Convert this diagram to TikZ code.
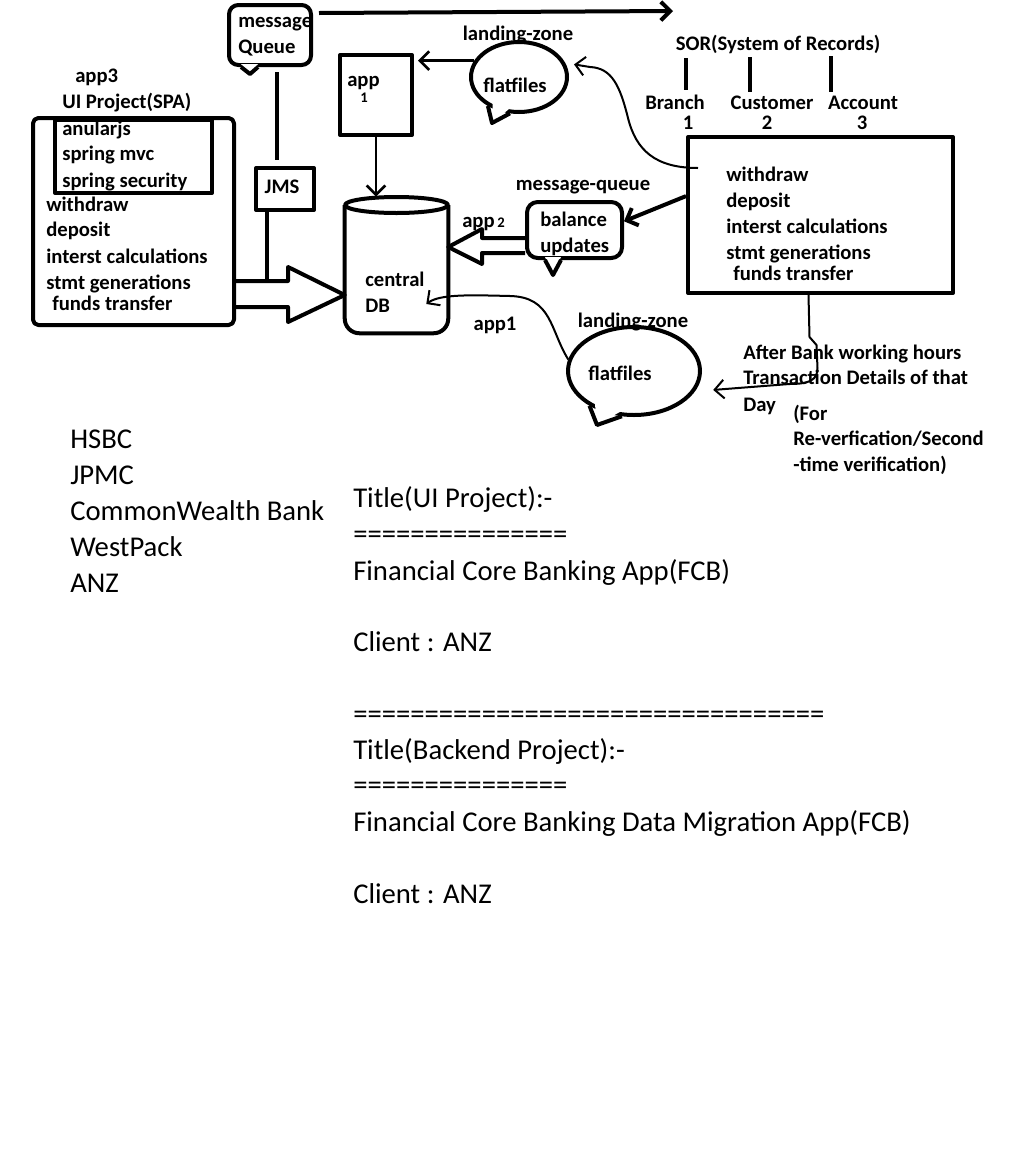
\documentclass[tikz,border=0pt]{standalone}
\usepackage{fontspec}
\setmainfont{Carlito}
\usetikzlibrary{arrows.meta,shapes.geometric,calc,fit}

\begin{document}
\begin{tikzpicture}[x=0.75pt, y=-0.75pt, line join=round]
	\tikzstyle{box} = [draw, line width=3pt, inner sep=0pt];
	\tikzstyle{bubble} = [draw, ellipse, line width=3pt, inner sep=0pt];
	\tikzstyle{lbl} = [inner sep=0pt, anchor=west, text height=11.5pt, text depth=0pt, font={\bfseries\fontsize{15.5}{18}\selectfont}];
	\tikzstyle{sub} = [inner sep=0pt, font={\bfseries\fontsize{11}{13}\selectfont}];
	\tikzstyle{note} = [inner sep=0pt, anchor=west, text height=15.5pt, text depth=0pt, font={\fontsize{21.5}{26}\selectfont}];
	\tikzstyle{flow} = [-{Straight Barb[length=7pt,width=14pt]}, line width=2pt];
	\tikzstyle{wire} = [-{Straight Barb[length=7pt,width=14pt]}, line width=1.5pt];
	\tikzstyle{fat} = [line width=3pt];

	\useasboundingbox (0,0) rectangle (1018,1154);

	% boxes
	\node[box, rounded corners=4pt, fit={(33,118) (234,325)}] (uibox) {};
	\node[box, fit={(55,120) (212,193)}] (uiinner) {};
	\node[box, rounded corners=7pt, fit={(229,5) (311,65)}] (mq) {};
	\node[box, fit={(256,168) (314,210)}] (jms) {};
	\node[box, fit={(340,55) (412,135)}] (appone) {};
	\node[inner sep=0pt, fit={(345,197) (448,333)}] (db) {};
	\node[box, fit={(688,137) (953,293)}] (sor) {};
	\node[box, rounded corners=8pt, fit={(527,202) (622,258)}] (bal) {};
	\node[bubble, minimum width=72pt, minimum height=52.5pt] (ff1) at (519,77) {};
	\node[bubble, minimum width=99pt, minimum height=66pt] (ff2) at (634,371) {};

	% cylinder
	\draw[fat, rounded corners=11pt] (db.west |- 0,205) -- (db.south west) -- (db.south east) -- (db.east |- 0,205);
	\draw[fat] (db.north |- 0,205) ellipse [x radius=38.6pt, y radius=6pt];

	% bubble tails
	\coordinate (mqtip) at ($(mq.south west)+(23,7)$);
	\fill[white] ($(mq.south west)+(14,-3)$) -- (mqtip) -- ($(mq.south west)+(31,-3)$) -- cycle;
	\draw[fat] ($(mq.south west)+(14,0)$) -- (mqtip) -- ($(mq.south west)+(31,0)$);

	\coordinate (baltip) at ($(bal.south west)+(28,15)$);
	\fill[white] ($(bal.south west)+(20,-3)$) -- (baltip) -- ($(bal.south west)+(36,-3)$) -- cycle;
	\draw[fat] ($(bal.south west)+(20,0)$) -- (baltip) -- ($(bal.south west)+(36,0)$);

	\coordinate (ff1tip) at (492,123);
	\fill[white] ($(ff1.223)!5pt!(ff1.center)$) -- (ff1tip) -- ($(ff1.256)!5pt!(ff1.center)$) -- cycle;
	\draw[fat] (ff1.223) -- (ff1tip) -- (ff1.256);

	\coordinate (ff2tip) at (597,425);
	\fill[white] ($(ff2.218)!5pt!(ff2.center)$) -- (ff2tip) -- ($(ff2.255)!5pt!(ff2.center)$) -- cycle;
	\draw[fat] (ff2.218) -- (ff2tip) -- (ff2.255);

	% texts of the diagram
	\node[lbl] (app3) at (75,75) {app3};
	\node[lbl] (uititle) at (62,101) {UI Project(SPA)};
	\foreach \t/\y in {anularjs/128, spring mvc/153, spring security/180}
		\node[lbl] (ui\y) at (62,\y) {\t};
	\foreach \t/\y in {withdraw/204, deposit/229, interst calculations/256, stmt generations/282}
		\node[lbl] (ui\y) at (46,\y) {\t};
	\node[lbl] (ui303) at (52,303) {funds transfer};

	\node[lbl] (mqa) at (238,20) {message};
	\node[lbl] (mqb) at (238,46) {Queue};
	\node[lbl, anchor=center] (jmst) at (282,186) {JMS};
	\node[lbl] (appa) at (347,79) {app};
	\node[sub] (appb) at (364,98) {1};
	\node[lbl] (dba) at (365,279) {central};
	\node[lbl] (dbb) at (365,305) {DB};

	\node[lbl, anchor=center] (lz1) at (518,33) {landing-zone};
	\node[lbl, anchor=center] (ff1t) at (515,85) {flatfiles};
	\node[lbl, anchor=center] (lz2) at (633,320) {landing-zone};
	\node[lbl, anchor=center] (ff2t) at (620,373) {flatfiles};
	\node[lbl, anchor=center] (appx) at (495,323) {app1};

	\node[lbl, anchor=center] (mqq) at (583,183) {message-queue};
	\node[lbl] (bala) at (540,219) {balance};
	\node[lbl] (balb) at (540,245) {updates};
	\node[lbl] (apptwo) at (462,220) {app};
	\node[sub] (apptwob) at (501,223) {2};

	\node[lbl, anchor=center] (sort) at (778,43) {SOR(System of Records)};
	\foreach \t/\x/\n/\nx [count=\i] in {Branch/675/1/688, Customer/772/2/767, Account/863/3/862} {
		\node[lbl, anchor=center] (rec\i) at (\x,102) {\t};
		\node[lbl, anchor=center] (num\i) at (\nx,122) {\n};
	}
	\draw[fat] (686,58) -- (686,90);
	\draw[fat] (750,57) -- (750,92);
	\draw[fat] (831,56) -- (831,92);

	\foreach \t/\y in {withdraw/174, deposit/200, interst calculations/226, stmt generations/252}
		\node[lbl] (sor\y) at (726,\y) {\t};
	\node[lbl] (sor273) at (733,273) {funds transfer};

	\node[lbl] (eod1) at (743,352) {After Bank working hours};
	\node[lbl] (eod2) at (743,377) {Transaction Details of that};
	\node[lbl] (eod3) at (743,404) {Day};
	\node[lbl] (ver1) at (793,413) {(For};
	\node[lbl] (ver2) at (793,438) {Re-verfication/Second};
	\node[lbl] (ver3) at (793,464) {-time verification)};

	% connectors
	\draw[fat] ($(mq.south)+(7,5)$) -- ($(jms.north)+(-8,-6)$);
	\draw[fat] ($(jms.south)+(-18,0)$) -- ($(jms.south)+(-18,71)$);
	\draw[flow, line width=3pt] ($(mq.north east)+(6,10)$) -- (673,11);
	\draw[flow] (appone.south) -- (appone.south |- db.north);
	\draw[flow, shorten >=3pt] (ff1.160) -- (appone.east |- ff1.160);
	\draw[flow, line width=3pt] (sor.172) -- (bal.10);

	\coordinate (sorin) at (698,168);
	\draw[wire] (sorin) .. controls (655,168) and (636,150) .. (628,118)
		.. controls (620,86) and (612,68) .. (590,67) -- ($(ff1.15)+(8,0)$);
	\draw[wire] (ff2.170) .. controls (550,330) and (552,297) .. (510,296)
		.. controls (470,295) and (440,294) .. ($(db.east)+(-22,39)$);
	\draw[wire] ($(sor.south)+(-12,0)$) -- ++(1,42) -- ++(7,8) -- ++(1,23)
		.. controls +(0,12) and +(20,0) .. ++(-28,16) -- ($(ff2.-15)+(16,2)$);

	% block arrows
	\draw[fat] (uibox.east |- 0,281) -- (288,281) -- (288,267) -- (db.west |- 0,295)
		-- (288,322) -- (288,307) -- (uibox.east |- 0,307);
	\draw[fat] (bal.west |- 0,238) -- (482,238) -- (482,229) -- (db.east |- 0,247)
		-- (482,264) -- (482,253) -- (bal.west |- 0,253);

	% notes below
	\foreach \t [count=\i] in {HSBC, JPMC, CommonWealth Bank, WestPack, ANZ}
		\node[note] (bank\i) at (70,{402+36*\i}) {\t};
	\foreach \t/\y [count=\i] in {Title(UI Project):-/497, ===============/533,
		Financial Core Banking App(FCB)/570, Client : ANZ/641,
		=================================/713, Title(Backend Project):-/749,
		===============/784, Financial Core Banking Data Migration App(FCB)/821,
		Client : ANZ/893}
		\node[note] (title\i) at (353,\y) {\t};
\end{tikzpicture}
\end{document}
